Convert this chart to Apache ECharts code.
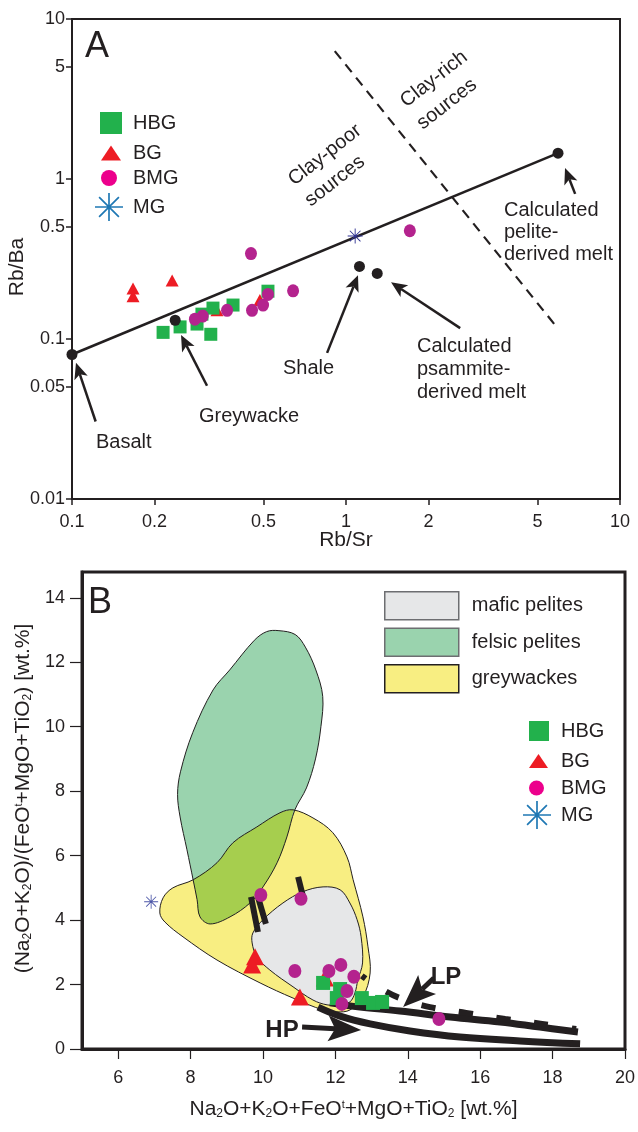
<!DOCTYPE html>
<html>
<head>
<meta charset="utf-8">
<script src="https://cdn.jsdelivr.net/npm/echarts@6/dist/echarts.min.js"></script>
<style>
html,body{margin:0;padding:0;background:#fff;}
#chart{width:638px;height:1132px;}
</style>
</head>
<body>
<div id="chart"></div>
<script>
// ---------- Panel A: Rb/Sr vs Rb/Ba ----------
const xTicksA = [0.1, 0.2, 0.5, 1, 2, 5, 10];
const yTicksA = [0.01, 0.05, 0.1, 0.5, 1, 5, 10];
const hbgA = [[0.215,0.110],[0.248,0.119],[0.286,0.124],[0.321,0.107],[0.327,0.156],[0.387,0.163],[0.519,0.199],[0.298,0.143]];
const bgA = [[0.167,0.207],[0.167,0.185],[0.232,0.232],[0.338,0.151],[0.485,0.175]];
const bmgA = [[0.45,0.342],[1.71,0.475],[0.641,0.200],[0.519,0.190],[0.498,0.163],[0.454,0.151],[0.368,0.151],[0.300,0.139],[0.281,0.133]];
const mgA = [[1.08,0.44]];
// end members: basalt, greywacke, shale, psammite-derived melt, pelite-derived melt
const endMembers = [[0.1,0.08],[0.238,0.131],[1.12,0.284],[1.30,0.257],[5.94,1.45]];
const mixingLine = [[0.1,0.08],[5.94,1.45]];
const clayDivide = [[0.91,6.3],[5.8,0.122]];
// arrows: [fromX, fromY, toX, toY]
const arrowsA = [
  [0.122,0.0305,0.1034,0.071],
  [0.311,0.051,0.25,0.106],
  [0.853,0.0819,1.106,0.25],
  [2.61,0.117,1.46,0.226],
  [6.86,0.807,6.30,1.17]
];

// ---------- Panel B: sum vs ratio ----------
const xTicksB = [6, 8, 10, 12, 14, 16, 18, 20];
const yTicksB = [0, 2, 4, 6, 8, 10, 12, 14];
const hbgB = [[11.66,2.05],[12.13,1.86],[12.04,1.58],[12.73,1.58],[13.04,1.43],[13.29,1.46]];
const bgB = [[9.78,2.86],[9.70,2.61],[11.02,1.61],[11.71,2.20]];
const bmgB = [[9.94,4.78],[11.05,4.66],[10.88,2.42],[11.82,2.42],[12.15,2.61],[12.51,2.24],[12.32,1.80],[12.18,1.40],[14.86,0.93]];
const mgB = [[6.91,4.57]];
const felsicPelites = [[10.44,12.98],[10.89,12.86],[11.17,12.47],[11.46,11.76],[11.65,10.94],[11.6,10.0],[11.45,9.0],[11.2,8.1],[10.88,7.42],[10.66,6.58],[10.39,5.78],[10.0,5.03],[9.64,4.53],[9.09,4.10],[8.54,3.88],[8.26,4.10],[8.18,4.63],[8.07,5.25],[7.90,6.18],[7.71,7.20],[7.64,7.9],[7.72,8.6],[8.06,9.82],[8.62,11.14],[9.08,11.76],[9.76,12.68],[10.1,12.95]];
const greywackes = [[10.83,7.42],[11.38,7.17],[11.93,6.71],[12.32,5.96],[12.49,5.25],[12.76,4.10],[12.90,3.17],[12.96,2.36],[12.76,1.61],[12.40,1.21],[12.04,1.15],[11.66,1.21],[10.83,1.58],[9.92,2.05],[8.73,2.76],[7.79,3.48],[7.29,3.94],[7.15,4.22],[7.24,4.69],[7.51,5.0],[8.07,5.25],[8.73,5.78],[9.17,6.40],[9.83,6.89],[10.47,7.33]];
// area shared by the felsic-pelite and greywacke fields
const sharedField = [[8.07,5.25],[8.07,5.25],[8.73,5.78],[9.17,6.40],[9.83,6.89],[10.47,7.33],[10.85,7.44],[10.85,7.44],[10.66,6.58],[10.39,5.78],[10.0,5.03],[9.64,4.53],[9.09,4.10],[8.54,3.88],[8.26,4.10],[8.18,4.63]];
const maficPelites = [[11.66,5.03],[12.13,4.94],[12.40,4.53],[12.60,4.01],[12.71,3.48],[12.75,2.67],[12.62,2.14],[12.54,1.74],[12.40,1.46],[12.13,1.37],[11.77,1.37],[11.38,1.52],[10.83,1.93],[10.19,2.45],[9.83,2.86],[9.70,3.29],[9.72,3.60],[10.0,4.01],[10.55,4.53],[11.10,4.88]];
const meltBars = [[9.67,4.72,9.86,3.63],[9.86,4.72,10.08,3.88],[10.97,5.34,11.10,4.75]];
const upperTrend = [[11.85,1.43],[12.68,1.30],[13.78,1.18],[15.17,0.99],[16.55,0.84],[17.65,0.68],[18.70,0.53]];
const hpTrend = [[11.52,1.30],[12.13,1.02],[12.96,0.78],[14.06,0.56],[15.44,0.37],[17.10,0.25],[18.76,0.16]];
const lpTrend = [[12.73,2.27],[13.23,1.89],[13.78,1.58],[14.61,1.30],[15.61,1.12],[16.69,0.93],[17.71,0.78],[18.65,0.62]];
const arrowsB = [[11.08,0.68,12.71,0.59],[14.72,2.20,13.87,1.30]];

const ink = '#231F20';
const ff = "'Liberation Sans', Arial, Helvetica, sans-serif";
const C = { hbg:'#22B14C', bg:'#ED1C24', bmg:'#B4238E', bmgKey:'#EC008C', mg:'#2E3192', mgB:'#4C56A8', mgKey:'#1F78B4',
  mafic:'#E6E7E8', felsic:'#9AD3AE', grey:'#F8EE82', shared:'#A6CE4E' };

// asterisk built from four thin bars
const STAR = 'path://M0,9.4L20,9.4L20,10.6L0,10.6Z M9.4,0L10.6,0L10.6,20L9.4,20Z M3.353,2.505L17.495,16.647L16.647,17.495L2.505,3.353Z M17.495,3.353L3.353,17.495L2.505,16.647L16.647,2.505Z';

const fmt = v => String(+(+v).toPrecision(4));

function polygon(name, pts, fill, stroke, z) {
  return {
    type:'custom', name, xAxisIndex:1, yAxisIndex:1, z, silent:true,
    itemStyle:{color: fill || '#000'},
    data: pts,
    renderItem: (params, api) => params.dataIndex !== 0 ? null : ({
      type:'polygon',
      shape:{ points: pts.map(p => api.coord(p)), smooth:0.35 },
      style:{ fill: fill || 'none', stroke: stroke || 'none', lineWidth:1 }
    })
  };
}
function segments(rows, axis, width, z) {
  return {
    type:'custom', xAxisIndex:axis, yAxisIndex:axis, z, silent:true,
    data: rows, encode:{x:[0,2], y:[1,3]},
    renderItem: (params, api) => {
      const a = api.coord([api.value(0), api.value(1)]);
      const b = api.coord([api.value(2), api.value(3)]);
      return { type:'line', shape:{x1:a[0],y1:a[1],x2:b[0],y2:b[1]}, style:{stroke:ink, lineWidth:width, lineCap:'butt'} };
    }
  };
}
function arrows(rows, axis, o, z) {
  return {
    type:'custom', xAxisIndex:axis, yAxisIndex:axis, z, silent:true,
    data: rows, encode:{x:[0,2], y:[1,3]},
    renderItem: (params, api) => {
      const a = api.coord([api.value(0), api.value(1)]);
      const b = api.coord([api.value(2), api.value(3)]);
      const dx = b[0]-a[0], dy = b[1]-a[1], len = Math.hypot(dx, dy);
      const ux = dx/len, uy = dy/len, nx = -uy, ny = ux;
      const base = [b[0]-ux*o.head, b[1]-uy*o.head];
      const notch = [b[0]-ux*(o.head-o.notch), b[1]-uy*(o.head-o.notch)];
      return { type:'group', children:[
        { type:'line', shape:{x1:a[0],y1:a[1],x2:notch[0],y2:notch[1]}, style:{stroke:ink, lineWidth:o.width} },
        { type:'polygon', shape:{points:[b,[base[0]+nx*o.half, base[1]+ny*o.half], notch, [base[0]-nx*o.half, base[1]-ny*o.half]]}, style:{fill:ink} }
      ]};
    }
  };
}
function scatter(name, data, axis, symbol, size, color, z) {
  return { type:'scatter', name, data, xAxisIndex:axis, yAxisIndex:axis, symbol, symbolSize:size, z,
    itemStyle:{color, opacity:1}, silent:true };
}
function line(data, axis, width, z, extra) {
  return Object.assign({ type:'line', data, xAxisIndex:axis, yAxisIndex:axis, showSymbol:false, symbol:'none', z, silent:true,
    lineStyle:{color:ink, width, cap:'butt'} }, extra || {});
}

const txt = { fontSize:20, color:ink, fontFamily:ff };
function key(name, icon, color, left, top, w, h, pad) {
  return { data:[{name, icon, itemStyle:{color, borderWidth:0}}], left, top, itemWidth:w, itemHeight:h,
    selectedMode:false, orient:'vertical', padding:0,
    textStyle:Object.assign({padding:[0,0,0,pad]}, txt) };
}
const rich = { s:{fontSize:12, verticalAlign:'bottom', fontFamily:ff, color:ink, padding:[6,0,0,0]}, t:{fontSize:11, verticalAlign:'top', fontFamily:ff, color:ink, padding:[0,0,8,0]} };
const label = (t, x, y, extra) => ({ type:'text', x, y, style:Object.assign({text:t, fontSize:20, fontFamily:ff, fill:ink, verticalAlign:'middle', textVerticalAlign:'middle'}, extra || {}) });
const centred = { align:'center', textAlign:'center' };
const tilt = 38 * Math.PI / 180;

const option = {
  backgroundColor:'#ffffff',
  animation:false,
  grid:[
    { left:72, top:19, width:548, height:480, show:true, borderColor:ink, borderWidth:2, backgroundColor:'transparent', containLabel:false, outerBoundsMode:'none' },
    { left:82, top:572, width:543, height:477, show:true, borderColor:ink, borderWidth:3, backgroundColor:'transparent', containLabel:false, outerBoundsMode:'none' }
  ],
  xAxis:[
    { type:'log', gridIndex:0, min:0.1, max:10, logBase:10,
      axisLine:{show:true, lineStyle:{color:ink, width:2}},
      axisTick:{show:true, length:6, lineStyle:{color:ink, width:1.5}, customValues:xTicksA},
      axisLabel:{customValues:xTicksA, formatter:fmt, fontSize:18, color:ink, fontFamily:ff, margin:14},
      splitLine:{show:false}, minorTick:{show:false},
      name:'Rb/Sr', nameLocation:'middle', nameGap:31, nameMoveOverlap:false,
      nameTextStyle:{fontSize:21, color:ink, fontFamily:ff} },
    { type:'value', gridIndex:1, min:5, max:20,
      axisLine:{show:true, lineStyle:{color:ink, width:3}},
      axisTick:{show:true, length:10, lineStyle:{color:ink, width:1.2}, customValues:xTicksB},
      axisLabel:{customValues:xTicksB, fontSize:18, color:ink, fontFamily:ff, margin:20},
      splitLine:{show:false},
      name:'Na{s|2}O+K{s|2}O+FeO{t|t}+MgO+TiO{s|2} [wt.%]', nameLocation:'middle', nameGap:50, nameMoveOverlap:false,
      nameTextStyle:{fontSize:21, color:ink, fontFamily:ff, rich} }
  ],
  yAxis:[
    { type:'log', gridIndex:0, min:0.01, max:10, logBase:10,
      axisLine:{show:true, lineStyle:{color:ink, width:2}},
      axisTick:{show:true, length:6, lineStyle:{color:ink, width:1.5}, customValues:yTicksA},
      axisLabel:{customValues:yTicksA, formatter:fmt, fontSize:18, color:ink, fontFamily:ff, margin:7},
      splitLine:{show:false}, minorTick:{show:false},
      name:'Rb/Ba', nameLocation:'middle', nameGap:44, nameMoveOverlap:false,
      nameTextStyle:{fontSize:21, color:ink, fontFamily:ff, padding:[0,16,0,0]} },
    { type:'value', gridIndex:1, min:0, max:14.8,
      axisLine:{show:true, lineStyle:{color:ink, width:3}},
      axisTick:{show:true, length:12, lineStyle:{color:ink, width:1.2}, customValues:yTicksB},
      axisLabel:{customValues:yTicksB, fontSize:18, color:ink, fontFamily:ff, margin:17},
      splitLine:{show:false},
      name:'(Na{s|2}O+K{s|2}O)/(FeO{t|t}+MgO+TiO{s|2}) [wt.%]', nameLocation:'middle', nameGap:48, nameMoveOverlap:false,
      nameTextStyle:{fontSize:21, color:ink, fontFamily:ff, rich, padding:[0,0,0,24]} }
  ],
  legend:[
    key('HBG', 'rect', C.hbg, 100, 112, 22, 22, 6),
    key('BG', 'triangle', C.bg, 101, 143, 20, 15, 7),
    key('BMG', 'circle', C.bmgKey, 101, 168, 16, 16, 11),
    key('MG', STAR, C.mgKey, 95, 193, 28, 28, 5),
    key('HBG', 'rect', C.hbg, 529, 721, 20, 20, 7),
    key('BG', 'triangle', C.bg, 529, 751, 19, 14, 8),
    key('BMG', 'circle', C.bmgKey, 529, 778, 15, 15, 12),
    key('MG', STAR, C.mgKey, 523, 801, 28, 28, 5),
    { data:[
        {name:'mafic pelites', icon:'rect', itemStyle:{color:C.mafic, borderColor:'#6D6E71', borderWidth:1.5}},
        {name:'felsic pelites', icon:'rect', itemStyle:{color:C.felsic, borderColor:'#6D6E71', borderWidth:1.5}},
        {name:'greywackes', icon:'rect', itemStyle:{color:C.grey, borderColor:'#231F20', borderWidth:1.5}}
      ],
      left:384, top:591, orient:'vertical', itemWidth:74, itemHeight:28, itemGap:7, padding:0, selectedMode:false,
      textStyle:Object.assign({padding:[0,0,0,8]}, txt) }
  ],
  graphic:[
    label('A', 97, 47, Object.assign({fontSize:36}, centred)),
    label('B', 100, 603, Object.assign({fontSize:36}, centred)),
    label('Basalt', 96, 442),
    label('Greywacke', 199, 416),
    label('Shale', 283, 368),
    { type:'text', x:417, y:335, style:{text:'Calculated\npsammite-\nderived melt', fontSize:20, lineHeight:23, fontFamily:ff, fill:ink} },
    { type:'text', x:504, y:199, style:{text:'Calculated\npelite-\nderived melt', fontSize:20, lineHeight:22, fontFamily:ff, fill:ink} },
    Object.assign(label('Clay-poor', 325, 155, Object.assign({fontSize:20}, centred)), {rotation:tilt}),
    Object.assign(label('sources', 335, 181, Object.assign({fontSize:20}, centred)), {rotation:tilt}),
    Object.assign(label('Clay-rich', 434, 79, Object.assign({fontSize:20}, centred)), {rotation:tilt}),
    Object.assign(label('sources', 447, 104, Object.assign({fontSize:20}, centred)), {rotation:tilt}),
    label('HP', 282, 1030, Object.assign({fontSize:24, fontWeight:'bold'}, centred)),
    label('LP', 446, 977, Object.assign({fontSize:24, fontWeight:'bold'}, centred))
  ],
  series:[
    // panel A
    line(mixingLine, 0, 2.5, 3),
    line(clayDivide, 0, 2.2, 3, {lineStyle:{color:ink, width:2.2, type:[10,7]}}),
    scatter('BG', bgA, 0, 'triangle', [13,12], C.bg, 4),
    scatter('HBG', hbgA, 0, 'rect', 13, C.hbg, 5),
    scatter('BMG', bmgA, 0, 'circle', [12,13], C.bmg, 6),
    scatter('MG', mgA, 0, STAR, 15, C.mg, 7),
    scatter('end members', endMembers, 0, 'circle', 11, ink, 8),
    arrows(arrowsA, 0, {head:16, half:7, notch:4, width:2.5}, 8),
    // panel B fields: fills first, then outlines
    polygon('greywackes', greywackes, C.grey, null, 1),
    polygon('felsic pelites', felsicPelites, C.felsic, null, 1),
    polygon('shared field', sharedField, C.shared, null, 1),
    polygon('greywacke outline', greywackes, null, ink, 1),
    polygon('felsic outline', felsicPelites, null, ink, 1),
    polygon('mafic pelites', maficPelites, C.mafic, ink, 1),
    segments(meltBars, 1, 6, 2),
    line(upperTrend, 1, 7, 3, {smooth:0.4}),
    line(hpTrend, 1, 7, 3, {smooth:0.4}),
    line(lpTrend, 1, 6, 3, {smooth:0.4, lineStyle:{color:ink, width:6, type:[14,24], dashOffset:9, cap:'butt'}}),
    arrows(arrowsB, 1, {head:33, half:13, notch:7, width:5}, 4),
    scatter('BG', bgB, 1, 'triangle', [18,17], C.bg, 5),
    scatter('HBG', hbgB, 1, 'rect', 14, C.hbg, 6),
    scatter('BMG', bmgB, 1, 'circle', [13,14], C.bmg, 7),
    scatter('MG', mgB, 1, STAR, 14, C.mgB, 8)
  ]
};

const chart = echarts.init(document.getElementById('chart'), null, {renderer:'canvas'});
chart.setOption(option);
</script>
</body>
</html>
